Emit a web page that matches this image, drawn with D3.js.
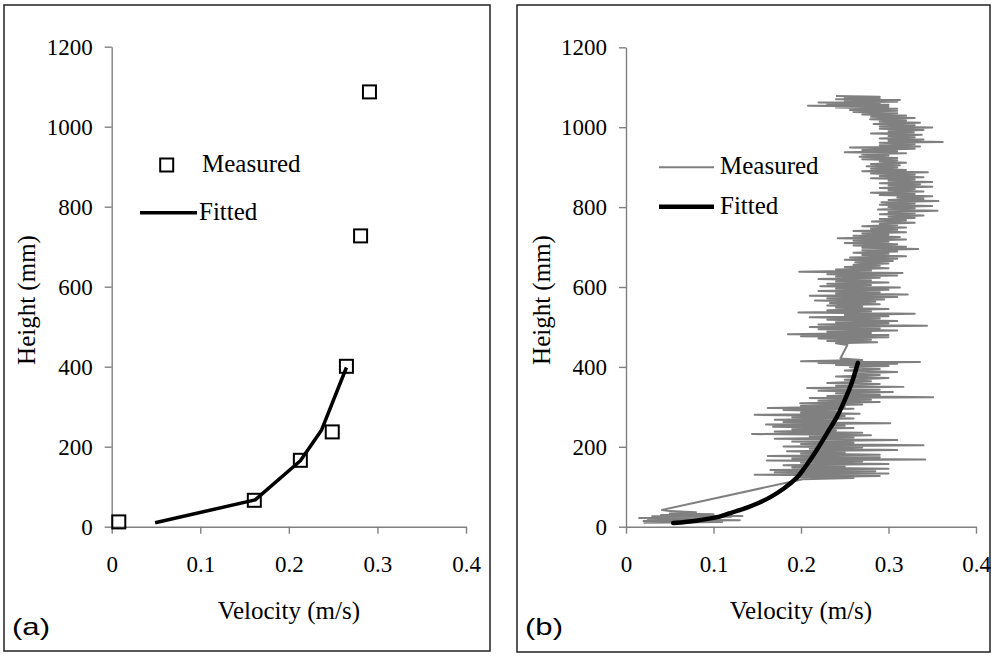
<!DOCTYPE html>
<html>
<head>
<meta charset="utf-8">
<title>Velocity profiles</title>
<script src="https://cdn.jsdelivr.net/npm/d3@7"></script>
<style>
  body { margin: 0; background: #fff; }
  svg { display: block; }
  text { font-family: "Liberation Serif", "Times New Roman", serif; fill: #000; }
  .panel-label { font-family: "Liberation Sans", Arial, sans-serif; }
</style>
</head>
<body>
<svg id="mainsvg" width="1000" height="657"></svg>
<script>
// ---- data ----
const xTicks = [0, 0.1, 0.2, 0.3, 0.4];
const yTicks = [0, 200, 400, 600, 800, 1000, 1200];

// panel (a): measured points [velocity, height]
const measuredA = [
  [0.008, 12], [0.161, 66], [0.213, 166], [0.249, 237], [0.265, 401], [0.281, 727], [0.291, 1087]
];
// panel (a): fitted curve
const fittedA = [
  [0.049, 10], [0.162, 67], [0.213, 165], [0.237, 242], [0.265, 398]
];

// panel (b): measured trace [height, velocity]
const measuredB = [
  [10, 0.02], [12, 0.11], [14, 0.02], [16, 0.13], [18, 0.025], [20, 0.09], [22, 0.015], [24, 0.12],
  [26, 0.03], [27, 0.133], [29, 0.04], [31, 0.10], [33, 0.05], [36, 0.08], [39, 0.05], [42, 0.041],
  [119, 0.202], [122, 0.26], [124, 0.195], [127, 0.29], [130, 0.147], [133, 0.30], [136, 0.17], [139, 0.285],
  [142, 0.165], [145, 0.30], [148, 0.19], [151, 0.25], [154, 0.18], [157, 0.30], [160, 0.20], [163, 0.27],
  [166, 0.161], [168, 0.342], [171, 0.19], [174, 0.29], [177, 0.162], [180, 0.29], [183, 0.20], [186, 0.25],
  [189, 0.184], [192, 0.31], [195, 0.21], [198, 0.27], [201, 0.18], [204, 0.34], [207, 0.20], [210, 0.26],
  [213, 0.19], [217, 0.31], [220, 0.17], [223, 0.26], [226, 0.21], [229, 0.28], [232, 0.144], [235, 0.27],
  [238, 0.17], [241, 0.24], [244, 0.19], [247, 0.26], [250, 0.168], [253, 0.25], [256, 0.16], [259, 0.302],
  [262, 0.18], [265, 0.24], [268, 0.17], [271, 0.26], [274, 0.19], [277, 0.25], [280, 0.147], [283, 0.267],
  [286, 0.20], [289, 0.24], [292, 0.18], [295, 0.26], [297, 0.162], [300, 0.25],
  [303, 0.20], [306, 0.27], [309, 0.199], [312, 0.29], [315, 0.22], [318, 0.28], [322, 0.21], [324, 0.351],
  [327, 0.23], [330, 0.29], [334, 0.24], [337, 0.305], [340, 0.22], [343, 0.29], [347, 0.207], [350, 0.317],
  [353, 0.24], [357, 0.29], [360, 0.23], [364, 0.28], [368, 0.25], [372, 0.30], [376, 0.24], [380, 0.29],
  [384, 0.26], [387, 0.31], [391, 0.25], [395, 0.29], [399, 0.256], [402, 0.30], [405, 0.24], [408, 0.31],
  [410, 0.22], [412, 0.336], [414, 0.20], [417, 0.27], [421, 0.245],
  [455, 0.253],
  [459, 0.24], [462, 0.287], [465, 0.23], [468, 0.28], [471, 0.22], [474, 0.30], [477, 0.20], [480, 0.30],
  [482, 0.185], [485, 0.28], [488, 0.23], [491, 0.31], [494, 0.22], [497, 0.29], [500, 0.21], [503, 0.344],
  [506, 0.22], [509, 0.30], [512, 0.24], [515, 0.31], [518, 0.23], [521, 0.29], [524, 0.21], [527, 0.30],
  [530, 0.25], [533, 0.33], [536, 0.197], [539, 0.28], [542, 0.23], [545, 0.30], [548, 0.24], [551, 0.27],
  [554, 0.23], [557, 0.29], [560, 0.233], [563, 0.285], [566, 0.216], [569, 0.295], [572, 0.23], [575, 0.31],
  [578, 0.21], [581, 0.322], [584, 0.24], [587, 0.29], [590, 0.22], [593, 0.30], [596, 0.24], [599, 0.313],
  [602, 0.222], [605, 0.28], [608, 0.23], [611, 0.30], [614, 0.24], [617, 0.28], [620, 0.22], [623, 0.29],
  [626, 0.24], [629, 0.31], [632, 0.23], [635, 0.316], [638, 0.198], [641, 0.28], [644, 0.24], [647, 0.30],
  [650, 0.25], [653, 0.29], [656, 0.26], [659, 0.30], [662, 0.262], [665, 0.305], [668, 0.25], [671, 0.31],
  [674, 0.256], [677, 0.32], [680, 0.27], [683, 0.30], [686, 0.26], [689, 0.31], [692, 0.27], [695, 0.334],
  [698, 0.27], [701, 0.32], [704, 0.26], [707, 0.31], [710, 0.25], [713, 0.30], [716, 0.26], [719, 0.32],
  [722, 0.242], [725, 0.313], [728, 0.26], [731, 0.30], [734, 0.27], [737, 0.32], [740, 0.26], [743, 0.31],
  [746, 0.28], [749, 0.32], [752, 0.27], [755, 0.31], [758, 0.29], [761, 0.33], [764, 0.281], [767, 0.32],
  [770, 0.29], [773, 0.33], [776, 0.30], [779, 0.34], [782, 0.29], [785, 0.33], [788, 0.30], [791, 0.356],
  [794, 0.288], [797, 0.33], [800, 0.30], [803, 0.35], [806, 0.29], [809, 0.33], [812, 0.292], [815, 0.357],
  [818, 0.30], [821, 0.34], [824, 0.31], [827, 0.35], [830, 0.29], [833, 0.33], [836, 0.28], [839, 0.34],
  [842, 0.30], [845, 0.33], [848, 0.29], [851, 0.35], [854, 0.30], [857, 0.336], [860, 0.29], [863, 0.35],
  [866, 0.30], [869, 0.33], [872, 0.28], [875, 0.34], [878, 0.29], [881, 0.33], [884, 0.28], [887, 0.345],
  [890, 0.27], [893, 0.32], [896, 0.28], [899, 0.31], [902, 0.275], [905, 0.313], [908, 0.28], [911, 0.32],
  [914, 0.29], [917, 0.31], [920, 0.27], [923, 0.31], [926, 0.267], [929, 0.30], [932, 0.27], [935, 0.32],
  [937, 0.25], [940, 0.31], [943, 0.27], [946, 0.33], [949, 0.256], [952, 0.336], [955, 0.29], [958, 0.33],
  [961, 0.29], [963, 0.362], [966, 0.30], [969, 0.34], [972, 0.29], [975, 0.33], [978, 0.30], [981, 0.338],
  [984, 0.28], [987, 0.329], [990, 0.30], [993, 0.34], [996, 0.29], [999, 0.35], [1002, 0.29], [1005, 0.33],
  [1008, 0.283], [1011, 0.336], [1014, 0.29], [1017, 0.32], [1020, 0.279], [1023, 0.33], [1026, 0.28], [1029, 0.32],
  [1032, 0.27], [1035, 0.31], [1038, 0.26], [1041, 0.31], [1043, 0.256], [1046, 0.31], [1049, 0.24], [1051, 0.30],
  [1054, 0.208], [1056, 0.30], [1058, 0.23], [1060, 0.29], [1062, 0.22], [1064, 0.31], [1066, 0.25], [1068, 0.313],
  [1070, 0.24], [1072, 0.29], [1074, 0.25], [1076, 0.29], [1078, 0.24]
];
// panel (b): fitted curve [velocity, height]
const fittedB = [
  [0.054, 9], [0.08, 15], [0.10, 22], [0.119, 34], [0.135, 45], [0.15, 58], [0.165, 74], [0.18, 95],
  [0.195, 122], [0.205, 150], [0.218, 192], [0.23, 235], [0.241, 275], [0.25, 317], [0.258, 360], [0.265, 410]
];

const svg = d3.select('#mainsvg');
const axisColor = '#808080';
const serif = '"Liberation Serif", "Times New Roman", serif';
const fmtX = d => d === 0 ? '0' : d3.format('.1f')(d);
const fmtY = d3.format('d');

function drawPanel(p) {
  const g = svg.append('g');
  // frame
  g.append('rect').attr('x', p.frame[0]).attr('y', p.frame[1])
    .attr('width', p.frame[2] - p.frame[0]).attr('height', p.frame[3] - p.frame[1])
    .attr('fill', 'none').attr('stroke', '#222').attr('stroke-width', 1.5);

  const x = d3.scaleLinear().domain([0, 0.4]).range(p.xr);
  const y = d3.scaleLinear().domain([0, 1200]).range(p.yr);

  const xAxis = d3.axisBottom(x).tickValues(xTicks).tickFormat(fmtX).tickSize(7).tickSizeOuter(0).tickPadding(22);
  const yAxis = d3.axisLeft(y).tickValues(yTicks).tickFormat(fmtY).tickSize(7).tickSizeOuter(0).tickPadding(12);

  const gx = g.append('g').attr('transform', `translate(0,${y(0)})`).call(xAxis);
  const gy = g.append('g').attr('transform', `translate(${x(0)},0)`).call(yAxis);
  [gx, gy].forEach(a => {
    a.attr('font-family', serif);
    a.select('.domain').attr('stroke', axisColor).attr('stroke-width', 1.4);
    a.selectAll('.tick line').attr('stroke', axisColor).attr('stroke-width', 1.4);
    a.selectAll('.tick text').attr('fill', '#000')
      .style('font-family', serif).style('font-size', '23px');
  });

  // axis titles
  g.append('text').attr('x', (p.xr[0] + p.xr[1]) / 2).attr('y', 619)
    .attr('text-anchor', 'middle').attr('font-size', 25).text('Velocity (m/s)');
  g.append('text').attr('transform', `translate(${x(0) - 85},${300}) rotate(-90)`)
    .attr('text-anchor', 'middle').attr('dy', '0.35em').attr('font-size', 25).text('Height (mm)');

  // panel label
  g.append('text').attr('class', 'panel-label').attr('x', p.frame[0] + 8).attr('y', 635)
    .attr('font-size', 24).attr('textLength', 38).attr('lengthAdjust', 'spacingAndGlyphs').text(p.label);

  return { g, x, y };
}

// ---- panel (a) ----
const A = drawPanel({ frame: [4, 5, 490, 651], xr: [111.7, 466], yr: [526.7, 46.7], label: '(a)' });
const line = (x, y) => d3.line().x(d => x(d[0])).y(d => y(d[1]));

A.g.append('path').datum(fittedA).attr('d', line(A.x, A.y))
  .attr('fill', 'none').attr('stroke', '#000').attr('stroke-width', 3.5).attr('stroke-linejoin', 'round');
const sq = 13;
A.g.selectAll('.sq').data(measuredA).enter().append('rect').attr('class', 'sq')
  .attr('x', d => A.x(d[0]) - sq / 2).attr('y', d => A.y(d[1]) - sq / 2)
  .attr('width', sq).attr('height', sq).attr('fill', 'none').attr('stroke', '#000').attr('stroke-width', 2);

// legend (a)
A.g.append('rect').attr('x', 166.7 - sq / 2).attr('y', 165 - sq / 2).attr('width', sq).attr('height', sq)
  .attr('fill', '#fff').attr('stroke', '#000').attr('stroke-width', 2);
A.g.append('text').attr('x', 202).attr('y', 172).attr('font-size', 25).text('Measured');
A.g.append('line').attr('x1', 140).attr('x2', 197).attr('y1', 212.7).attr('y2', 212.7)
  .attr('stroke', '#000').attr('stroke-width', 3.5);
A.g.append('text').attr('x', 199).attr('y', 220).attr('font-size', 25).text('Fitted');

// ---- panel (b) ----
const B = drawPanel({ frame: [517, 5, 990, 652], xr: [626, 976], yr: [526.7, 47.3], label: '(b)' });

B.g.append('path').datum(measuredB)
  .attr('d', d3.line().x(d => B.x(d[1])).y(d => B.y(d[0])))
  .attr('fill', 'none').attr('stroke', '#808080').attr('stroke-width', 2).attr('stroke-linejoin', 'round');
B.g.append('path').datum(fittedB).attr('d', line(B.x, B.y).curve(d3.curveMonotoneY))
  .attr('fill', 'none').attr('stroke', '#000').attr('stroke-width', 4.5).attr('stroke-linecap', 'round');

// legend (b)
B.g.append('line').attr('x1', 659).attr('x2', 714).attr('y1', 167.3).attr('y2', 167.3)
  .attr('stroke', '#808080').attr('stroke-width', 2);
B.g.append('text').attr('x', 720).attr('y', 174).attr('font-size', 25).text('Measured');
B.g.append('line').attr('x1', 659).attr('x2', 714).attr('y1', 206.7).attr('y2', 206.7)
  .attr('stroke', '#000').attr('stroke-width', 4.5);
B.g.append('text').attr('x', 720).attr('y', 213.5).attr('font-size', 25).text('Fitted');
</script>
</body>
</html>
